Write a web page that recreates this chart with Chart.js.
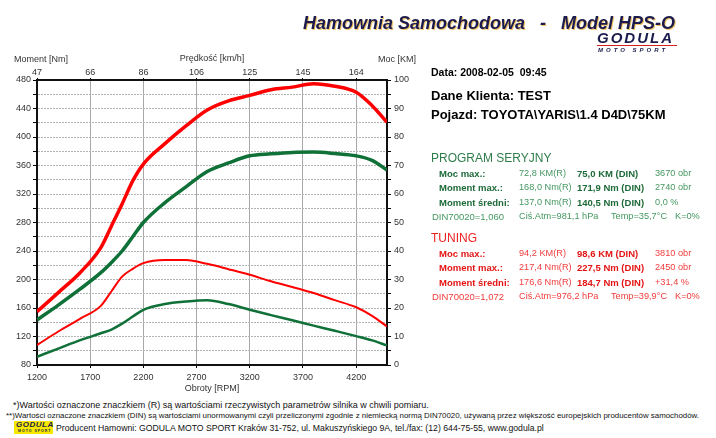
<!DOCTYPE html>
<html>
<head>
<meta charset="utf-8">
<script src="https://cdn.jsdelivr.net/npm/chart.js@4.4.1/dist/chart.umd.min.js"></script>
<style>
  body { margin: 0; background: #fff; font-family: "Liberation Sans", Arial, sans-serif; }
  #page { position: relative; width: 716px; height: 438px; overflow: hidden; background: #fff; }
  #page div.t { position: absolute; white-space: nowrap; line-height: 1; }
  #wrap { position: absolute; left: 0; top: 0; width: 420px; height: 400px; }
  .g1 { color: #1d6a38; font-weight: bold; font-size: 9.5px; }
  .g2 { color: #449861; font-size: 9.2px; }
  .r1 { color: #e41414; font-weight: bold; font-size: 9.5px; }
  .r2 { color: #f23c3c; font-size: 9.2px; }
</style>
</head>
<body>
<div id="page">
  <div id="wrap"><canvas id="dyno" width="420" height="400"></canvas></div>

  <div class="t" style="left:14px;top:55px;font-size:9px;color:#333">Moment [Nm]</div>
  <div class="t" style="left:378px;top:55px;font-size:9px;color:#333">Moc [KM]</div>

  <div class="t" style="left:303px;top:14px;font-size:18px;font-weight:bold;font-style:italic;color:#1b1b4d;text-shadow:1px 1px 0 #f2c466">Hamownia Samochodowa&nbsp;&nbsp;&nbsp;-&nbsp;&nbsp;&nbsp;Model HPS-O</div>
  <div class="t" style="left:597px;top:30px;font-size:15px;font-weight:900;font-style:italic;color:#1b1b4d;letter-spacing:2px">GODULA</div>
  <div style="position:absolute;left:597px;top:45px;width:80px;height:1px;background:#d02020"></div>
  <div class="t" style="left:598px;top:47px;font-size:6px;font-weight:bold;font-style:italic;color:#1b1b4d;letter-spacing:3px">MOTO SPORT</div>

  <div class="t" style="left:431px;top:67px;font-size:10.5px;font-weight:bold;color:#000">Data: 2008-02-05&nbsp;&nbsp;09:45</div>
  <div class="t" style="left:431px;top:89px;font-size:13px;font-weight:bold;color:#000">Dane Klienta: TEST</div>
  <div class="t" style="left:431px;top:108px;font-size:13px;font-weight:bold;color:#000">Pojazd: TOYOTA\YARIS\1.4 D4D\75KM</div>

  <div class="t" style="left:431px;top:152px;font-size:12px;color:#2f7d4a">PROGRAM SERYJNY</div>
  <div class="t g1" style="left:439px;top:169px">Moc max.:</div>
  <div class="t g2" style="left:519px;top:169px">72,8 KM(R)</div>
  <div class="t g1" style="left:577px;top:169px">75,0 KM (DIN)</div>
  <div class="t g2" style="left:655px;top:169px">3670 obr</div>
  <div class="t g1" style="left:439px;top:183px">Moment max.:</div>
  <div class="t g2" style="left:519px;top:183px">168,0 Nm(R)</div>
  <div class="t g1" style="left:577px;top:183px">171,9 Nm (DIN)</div>
  <div class="t g2" style="left:655px;top:183px">2740 obr</div>
  <div class="t g1" style="left:439px;top:198px">Moment średni:</div>
  <div class="t g2" style="left:519px;top:198px">137,0 Nm(R)</div>
  <div class="t g1" style="left:577px;top:198px">140,5 Nm (DIN)</div>
  <div class="t g2" style="left:655px;top:198px">0,0 %</div>
  <div class="t g2" style="left:432px;top:212px;font-size:9.5px">DIN70020=1,060</div>
  <div class="t g2" style="left:519px;top:212px">Ciś.Atm=981,1 hPa</div>
  <div class="t g2" style="left:611px;top:212px">Temp=35,7°C</div>
  <div class="t g2" style="left:675px;top:212px">K=0%</div>

  <div class="t" style="left:431px;top:232px;font-size:12px;color:#f02020">TUNING</div>
  <div class="t r1" style="left:439px;top:249px">Moc max.:</div>
  <div class="t r2" style="left:519px;top:249px">94,2 KM(R)</div>
  <div class="t r1" style="left:577px;top:249px">98,6 KM (DIN)</div>
  <div class="t r2" style="left:655px;top:249px">3810 obr</div>
  <div class="t r1" style="left:439px;top:263px">Moment max.:</div>
  <div class="t r2" style="left:519px;top:263px">217,4 Nm(R)</div>
  <div class="t r1" style="left:577px;top:263px">227,5 Nm (DIN)</div>
  <div class="t r2" style="left:655px;top:263px">2450 obr</div>
  <div class="t r1" style="left:439px;top:278px">Moment średni:</div>
  <div class="t r2" style="left:519px;top:278px">176,6 Nm(R)</div>
  <div class="t r1" style="left:577px;top:278px">184,7 Nm (DIN)</div>
  <div class="t r2" style="left:655px;top:278px">+31,4 %</div>
  <div class="t r2" style="left:432px;top:292px;font-size:9.5px">DIN70020=1,072</div>
  <div class="t r2" style="left:519px;top:292px">Ciś.Atm=976,2 hPa</div>
  <div class="t r2" style="left:611px;top:292px">Temp=39,9°C</div>
  <div class="t r2" style="left:675px;top:292px">K=0%</div>

  <div class="t" style="left:13px;top:401px;font-size:9px;color:#111">*)Wartości oznaczone znaczkiem (R) są wartościami rzeczywistych parametrów silnika w chwili pomiaru.</div>
  <div class="t" style="left:6px;top:412px;font-size:7.9px;color:#111">**)Wartości oznaczone znaczkiem (DIN) są wartościami unormowanymi czyli przeliczonymi zgodnie z niemiecką normą DIN70020, używaną przez większość europejskich producentów samochodów.</div>
  <div style="position:absolute;left:14px;top:421px;width:39px;height:13px;background:#f6e800"></div>
  <div class="t" style="left:16px;top:421px;font-size:8px;font-weight:900;font-style:italic;color:#1b1b4d;letter-spacing:0.5px">GODULA</div>
  <div class="t" style="left:18px;top:430px;font-size:3.5px;font-weight:bold;color:#1b1b4d;letter-spacing:1px">MOTO SPORT</div>
  <div class="t" style="left:56px;top:424px;font-size:8.7px;color:#111">Producent Hamowni: GODULA MOTO SPORT Kraków 31-752, ul. Makuszyńskiego 9A, tel./fax: (12) 644-75-55, www.godula.pl</div>
</div>

<script>
// obroty [RPM] i odczyty z wykresu
const rpm = [1200, 1400, 1600, 1800, 1900, 2000, 2100, 2200, 2400, 2600, 2800, 3000, 3200, 3400, 3600, 3800, 4000, 4200, 4350, 4490];
const powerTuned  = [18.7, 25.4, 32.2, 41.2, 48.8, 56.5, 64.6, 70.5, 77.6, 83.9, 89.5, 92.7, 94.6, 96.6, 97.5, 98.7, 97.8, 95.7, 91.0, 85.2];
const torqueTuned = [108, 127, 144.5, 163, 183.5, 204, 215, 223, 227.4, 227.3, 222, 214.5, 206.6, 197.5, 189.5, 181, 171, 161, 149, 134];
const powerStock  = [15.8, 21, 26.5, 32.4, 36, 40, 45, 50, 56.9, 62.5, 67.9, 70.9, 73.4, 74.1, 74.6, 74.7, 74.2, 73.4, 71.8, 68.4];
const torqueStock = [91.6, 103, 114.5, 124.5, 129.8, 138, 148, 157.5, 165.5, 169, 170.8, 165.5, 157.5, 150, 142.7, 135.3, 128, 120.5, 114.5, 107.5];

const rpmTicks = [1200, 1700, 2200, 2700, 3200, 3700, 4200];
const speedTicks = ['47', '66', '86', '106', '125', '145', '164'];
const torqueTicks = [80, 100, 120, 140, 160, 180, 200, 220, 240, 260, 280, 300, 320, 340, 360, 380, 400, 420, 440, 460, 480];
const powerTicks = [0, 5, 10, 15, 20, 25, 30, 35, 40, 45, 50, 55, 60, 65, 70, 75, 80, 85, 90, 95, 100];

const RED = '#ff0000';
const GREEN = '#0f7038';
const tickFont = { family: 'Liberation Sans', size: 9 };

function pts(values) {
    return rpm.map((r, i) => ({ x: r, y: values[i] }));
}

function line(values, color, width, axis) {
    return {
        data: pts(values),
        borderColor: color,
        borderWidth: width,
        pointRadius: 0,
        cubicInterpolationMode: 'monotone',
        yAxisID: axis,
        fill: false
    };
}

const ctx = document.getElementById('dyno').getContext('2d');
new Chart(ctx, {
    type: 'line',
    data: {
        datasets: [
            line(powerTuned, RED, 3.5, 'yR'),
            line(powerStock, GREEN, 3.5, 'yR'),
            line(torqueTuned, RED, 2, 'y'),
            line(torqueStock, GREEN, 2.5, 'y')
        ]
    },
    options: {
        responsive: false,
        animation: false,
        layout: { padding: { top: 48, left: 0, right: 0, bottom: 0 } },
        plugins: { legend: { display: false }, tooltip: { enabled: false } },
        scales: {
            x: {
                type: 'linear',
                position: 'bottom',
                min: 1200,
                max: 4490,
                afterBuildTicks: s => { s.ticks = rpmTicks.map(v => ({ value: v })); },
                afterFit: s => { s.height = 35; },
                grid: { color: '#a8a8a8', tickColor: '#000', tickLength: 3 },
                border: { color: '#111', width: 2 },
                ticks: { font: tickFont, color: '#333', padding: 4, maxRotation: 0,
                         callback: v => String(v) },
                title: { display: true, text: 'Obroty [RPM]', font: tickFont, color: '#333', padding: { top: 0, bottom: 6 } }
            },
            x2: {
                type: 'linear',
                position: 'top',
                min: 1200,
                max: 4490,
                afterBuildTicks: s => { s.ticks = rpmTicks.map(v => ({ value: v })); },
                afterFit: s => { s.height = 32; },
                grid: { drawOnChartArea: false, tickColor: '#000', tickLength: 2 },
                border: { color: '#111', width: 2 },
                ticks: { font: tickFont, color: '#333', padding: 0, maxRotation: 0,
                         callback: (v, i) => speedTicks[i] },
                title: { display: true, text: 'Prędkość [km/h]', font: tickFont, color: '#333', padding: { top: 5, bottom: 0 } }
            },
            y: {
                position: 'left',
                min: 80,
                max: 480,
                afterBuildTicks: s => { s.ticks = torqueTicks.map(v => ({ value: v })); },
                afterFit: s => { s.width = 37; },
                grid: { color: '#b4b4b4', tickColor: '#000', tickLength: 4, tickBorderDash: [] },
                border: { color: '#111', width: 2, dash: [2, 1] },
                ticks: { font: tickFont, color: '#333', padding: 2,
                         callback: v => (v % 40 === 0 ? String(v) : '') }
            },
            yR: {
                position: 'right',
                min: 0,
                max: 100,
                afterBuildTicks: s => { s.ticks = powerTicks.map(v => ({ value: v })); },
                afterFit: s => { s.width = 33; },
                grid: { drawOnChartArea: false, tickColor: '#000', tickLength: 4 },
                border: { color: '#111', width: 2 },
                ticks: { font: tickFont, color: '#333', padding: 3,
                         callback: v => (v % 10 === 0 ? String(v) : '') }
            }
        }
    }
});
</script>
</body>
</html>
